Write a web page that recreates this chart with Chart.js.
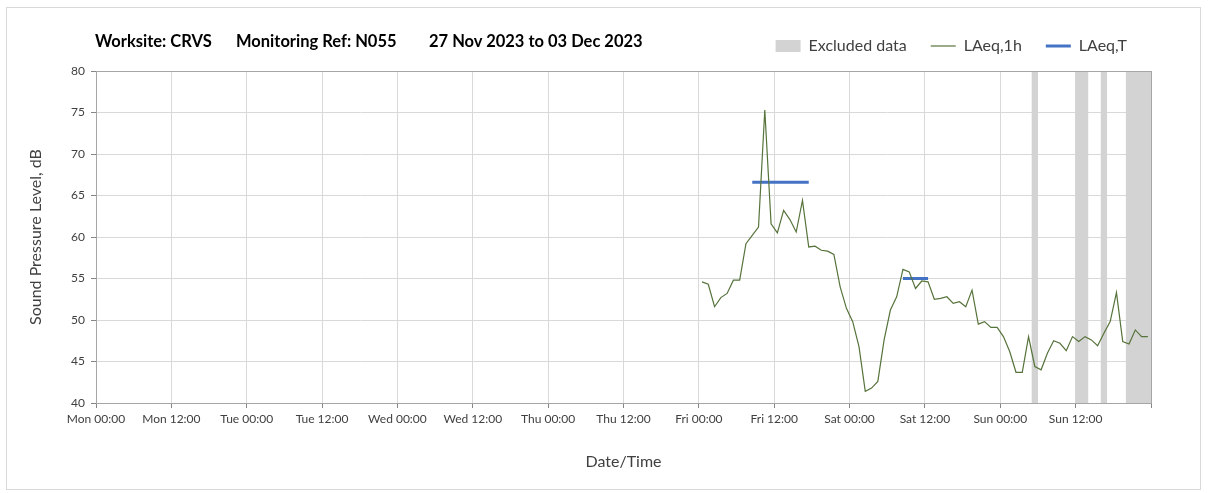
<!DOCTYPE html>
<html>
<head>
<meta charset="utf-8">
<script src="https://cdn.jsdelivr.net/npm/chart.js@4.4.0/dist/chart.umd.min.js"></script>
<style>
body { margin: 0; background: #fff; }
#wrap { position: relative; width: 1208px; height: 493px; }
#canvas { position: absolute; left: 0; top: 0; }
#frame { position: absolute; left: 6px; top: 7px; width: 1195px; height: 483px; border: 1px solid #d9d9d9; box-sizing: border-box; pointer-events: none; }
.ttl { position: absolute; top: 31px; font: bold 16.5px Lato, sans-serif; color: #000; white-space: nowrap; }
</style>
</head>
<body>
<div id="wrap">
    <canvas id="canvas" width="1208" height="493"></canvas>
    <div id="frame"></div>
    <span class="ttl" style="left:95px">Worksite: CRVS</span>
    <span class="ttl" style="left:236px">Monitoring Ref: N055</span>
    <span class="ttl" style="left:429px">27 Nov 2023 to 03 Dec 2023</span>
</div>
<script>
// x axis is in hours from Mon 00:00
var tickLabels = ['Mon 00:00', 'Mon 12:00', 'Tue 00:00', 'Tue 12:00', 'Wed 00:00', 'Wed 12:00',
    'Thu 00:00', 'Thu 12:00', 'Fri 00:00', 'Fri 12:00', 'Sat 00:00', 'Sat 12:00', 'Sun 00:00', 'Sun 12:00'];

// hourly LAeq, first value is the Fri 00:00-01:00 hour
var firstHour = 96.5;
var laeq1h = [
    54.6, 54.3, 51.6, 52.7, 53.2, 54.8, 54.8, 59.2, 60.2, 61.2, 75.3, 61.6,
    60.5, 63.2, 62.1, 60.6, 64.4, 58.8, 58.9, 58.4, 58.3, 57.9, 54.0, 51.4,
    49.8, 46.8, 41.4, 41.8, 42.6, 47.6, 51.2, 52.8, 56.1, 55.8, 53.8, 54.7,
    54.6, 52.5, 52.6, 52.8, 52.0, 52.2, 51.6, 53.6, 49.5, 49.8, 49.1, 49.1,
    48.0, 46.2, 43.7, 43.7, 48.0, 44.4, 44.0, 46.0, 47.5, 47.2, 46.3, 48.0,
    47.4, 48.0, 47.6, 46.9, 48.4, 49.8, 53.3, 47.4, 47.1, 48.8, 48.0, 48.0
];

// LAeq,T periods
var laeqTStart = [104.5, 128.5];
var laeqTEnd = [113.5, 132.5];
var laeqTLevel = [66.6, 55.0];

// excluded data periods
var excludedStart = [149, 156, 160, 164];
var excludedEnd = [150, 158, 161, 168];

var yTicks = [40, 45, 50, 55, 60, 65, 70, 75, 80];

var lineData = laeq1h.map(function (v, i) {
    return { x: firstHour + i, y: v };
});

var tData = [];
for (var i = 0; i < laeqTStart.length; i++) {
    tData.push({ x: laeqTStart[i], y: laeqTLevel[i] });
    tData.push({ x: laeqTEnd[i], y: laeqTLevel[i] });
    tData.push({ x: laeqTEnd[i] + 1, y: null });
}

var bands = {
    id: 'bands',
    beforeDatasetsDraw: function (chart) {
        var ctx = chart.ctx, a = chart.chartArea, xs = chart.scales.x;
        ctx.save();
        ctx.fillStyle = '#d3d3d3';
        for (var i = 0; i < excludedStart.length; i++) {
            var x0 = xs.getPixelForValue(excludedStart[i]);
            var x1 = xs.getPixelForValue(excludedEnd[i]);
            ctx.fillRect(x0, a.top, x1 - x0, a.bottom - a.top);
        }
        ctx.strokeStyle = '#a6a6a6';
        ctx.lineWidth = 1;
        ctx.strokeRect(Math.round(a.left) + 0.5, Math.round(a.top) + 0.5,
            Math.round(a.right - a.left), Math.round(a.bottom - a.top));
        ctx.restore();
    }
};

var font = 'Lato, sans-serif';

var ctx = document.getElementById('canvas').getContext('2d');
var config = {
    type: 'line',
    data: {
        datasets: [{
            label: 'LAeq,1h',
            data: lineData,
            borderColor: '#56733b',
            borderWidth: 1.2,
            pointRadius: 0,
            tension: 0
        }, {
            label: 'LAeq,T',
            data: tData,
            borderColor: '#4472c4',
            borderWidth: 3,
            pointRadius: 0,
            spanGaps: false
        }]
    },
    options: {
        responsive: false,
        animation: false,
        layout: { padding: { left: 26, right: 57, top: 14, bottom: 22 } },
        plugins: {
            tooltip: { enabled: false },
            // empty spacer between legend and plot
            subtitle: {
                display: true,
                text: '',
                weight: 900,
                font: { size: 7, lineHeight: 1 },
                padding: 0
            },
            legend: {
                position: 'top',
                align: 'end',
                labels: {
                    font: { family: font, size: 16 },
                    color: '#404040',
                    usePointStyle: true,
                    pointStyleWidth: 25,
                    boxHeight: 12,
                    padding: 24,
                    generateLabels: function () {
                        return [
                            { text: 'Excluded data', fillStyle: '#d3d3d3', strokeStyle: '#d3d3d3', lineWidth: 0, pointStyle: 'rect', fontColor: '#404040' },
                            { text: 'LAeq,1h', fillStyle: '#56733b', strokeStyle: '#56733b', lineWidth: 1.2, pointStyle: 'line', fontColor: '#404040' },
                            { text: 'LAeq,T', fillStyle: '#4472c4', strokeStyle: '#4472c4', lineWidth: 3, pointStyle: 'line', fontColor: '#404040' }
                        ];
                    }
                }
            }
        },
        scales: {
            x: {
                type: 'linear',
                min: 0,
                max: 168,
                afterFit: function (scale) { scale.height = 68; },
                afterBuildTicks: function (scale) {
                    scale.ticks = tickLabels.map(function (t, i) { return { value: i * 12 }; });
                    scale.ticks.push({ value: 168 });
                },
                ticks: {
                    autoSkip: false,
                    maxRotation: 0,
                    padding: 4,
                    color: '#404040',
                    font: { family: font, size: 12 },
                    callback: function (v) { return tickLabels[v / 12] || ''; }
                },
                grid: { color: '#d9d9d9', tickColor: '#868686', tickLength: 5 },
                border: { color: '#868686' },
                title: {
                    display: true,
                    text: 'Date/Time',
                    color: '#404040',
                    font: { family: font, size: 16 },
                    padding: { top: 0, bottom: 0 }
                }
            },
            y: {
                min: 40,
                max: 80,
                afterFit: function (scale) { scale.width = 70; },
                afterBuildTicks: function (scale) {
                    scale.ticks = yTicks.map(function (v) { return { value: v }; });
                },
                ticks: {
                    padding: 6,
                    color: '#404040',
                    font: { family: font, size: 12 }
                },
                grid: { color: '#d9d9d9', tickColor: '#868686', tickLength: 5 },
                border: { color: '#868686' },
                title: {
                    display: true,
                    text: 'Sound Pressure Level, dB',
                    color: '#404040',
                    font: { family: font, size: 16 },
                    padding: { top: 0, bottom: 0 }
                }
            }
        }
    },
    plugins: [bands]
};

var chart = new Chart(ctx, config);
</script>
</body>
</html>
